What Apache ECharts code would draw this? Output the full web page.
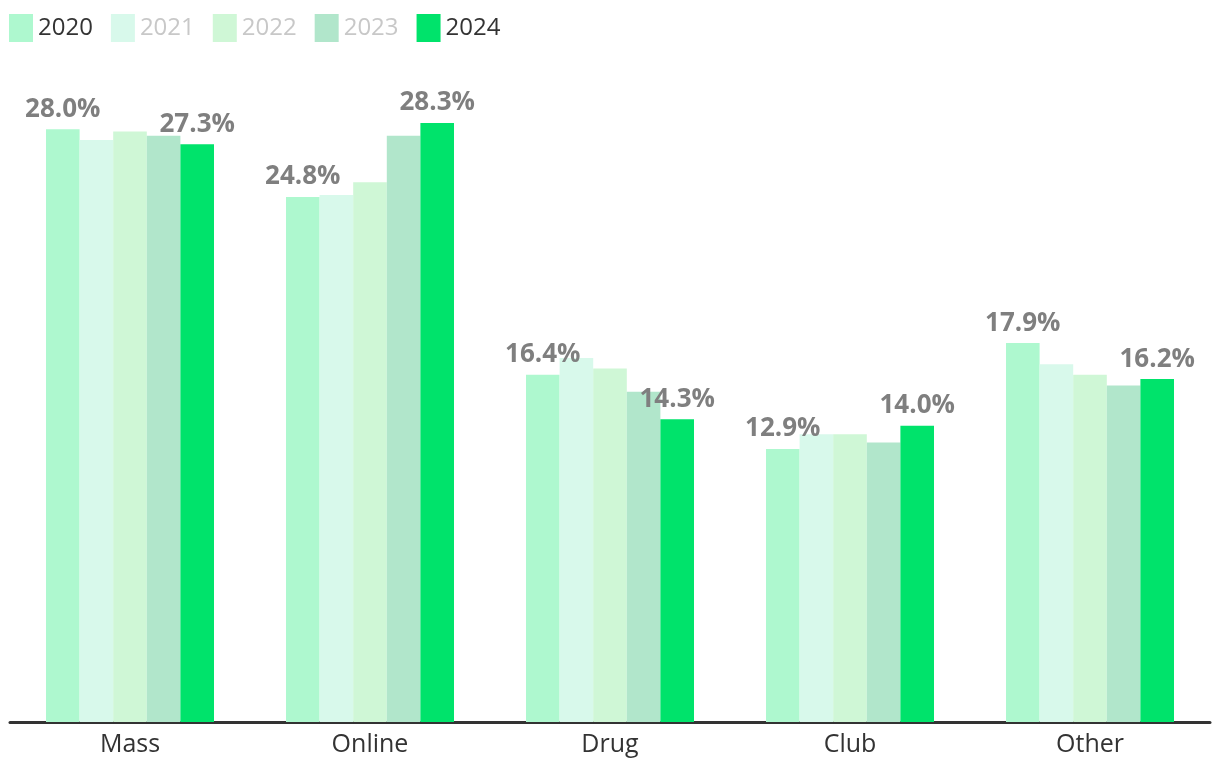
<!DOCTYPE html>
<html>
<head>
<meta charset="utf-8">
<script src="https://cdn.jsdelivr.net/npm/echarts@6/dist/echarts.min.js"></script>
<style>
  html, body { margin: 0; padding: 0; background: #fff; }
  #chart { width: 1220px; height: 780px; }
</style>
</head>
<body>
<div id="chart"></div>
<script>
// categories and yearly shares (%)
const categories = ['Mass', 'Online', 'Drug', 'Club', 'Other'];
const years = ['2020', '2021', '2022', '2023', '2024'];
const v2020 = [28.0, 24.8, 16.4, 12.9, 17.9];
const v2021 = [27.5, 24.9, 17.2, 13.6, 16.9];
const v2022 = [27.9, 25.5, 16.7, 13.6, 16.4];
const v2023 = [27.7, 27.7, 15.6, 13.2, 15.9];
const v2024 = [27.3, 28.3, 14.3, 14.0, 16.2];

const colors = ['#aef8cf', '#d8f9eb', '#cff7d6', '#b1e6cb', '#00e36b'];
const values = [v2020, v2021, v2022, v2023, v2024];
// only first and last year get labels
const labelled = [true, false, false, false, true];
const legendText = ['#333333', '#c8c8c8', '#c8c8c8', '#c8c8c8', '#333333'];

const font = '"Open Sans", Lato, sans-serif';

const chart = echarts.init(document.getElementById('chart'));

const series = years.map((y, i) => ({
  name: y,
  type: 'bar',
  data: values[i],
  itemStyle: { color: colors[i] },
  barGap: 0,
  barCategoryGap: '30%',
  label: {
    show: labelled[i],
    position: 'top',
    distance: 7,
    formatter: (p) => p.value.toFixed(1) + '%',
    color: '#7f7f7f',
    fontSize: 26,
    fontWeight: 'bold',
    fontFamily: font
  }
}));

chart.setOption({
  animation: false,
  color: colors,
  legend: {
    left: 4,
    top: 9,
    itemWidth: 24,
    itemHeight: 28,
    itemGap: 18,
    icon: 'rect',
    selectedMode: false,
    textStyle: { fontSize: 24, fontFamily: font },
    data: years.map((y, i) => ({ name: y, textStyle: { color: legendText[i] } }))
  },
  grid: { left: 10, right: 10, top: 87, bottom: 58 },
  xAxis: {
    type: 'category',
    data: categories,
    axisLine: { lineStyle: { color: '#333333', width: 3 } },
    axisTick: { show: false },
    axisLabel: { color: '#333333', fontSize: 25, fontFamily: font, margin: 10 }
  },
  yAxis: {
    type: 'value',
    min: 0,
    max: 30,
    show: false,
    splitLine: { show: false }
  },
  series
});
</script>
</body>
</html>
